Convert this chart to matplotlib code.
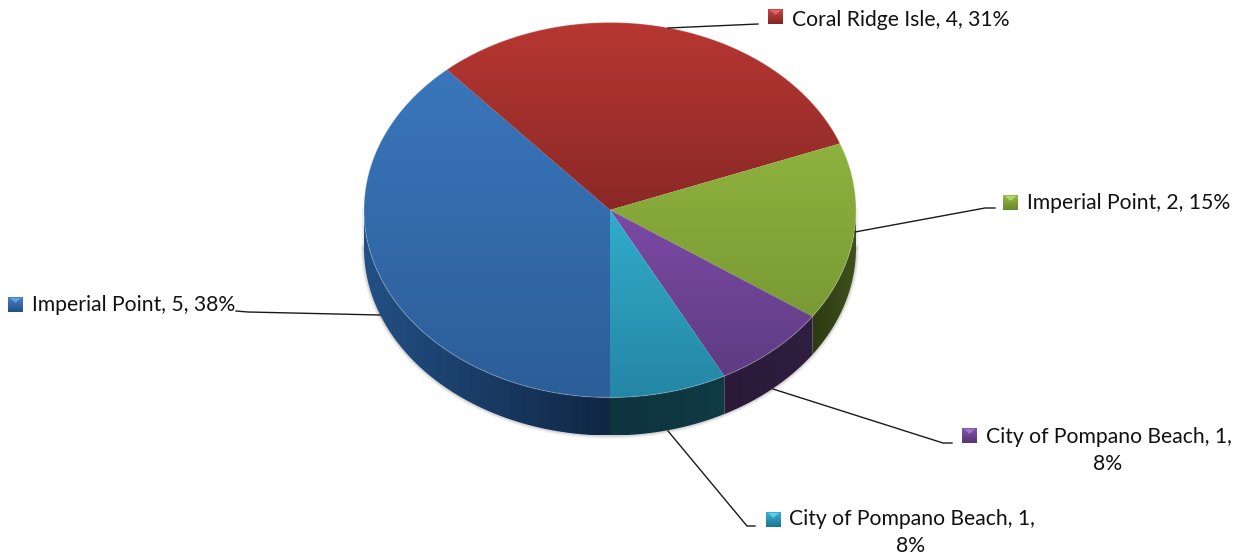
import numpy as np
import matplotlib
matplotlib.use("Agg")
import matplotlib.pyplot as plt
from matplotlib.patches import Polygon, Rectangle

# Chart data, in the order the slices run clockwise from the bottom
names = ["Imperial Point", "Coral Ridge Isle", "Imperial Point",
         "City of Pompano Beach", "City of Pompano Beach"]
counts = [5, 4, 2, 1, 1]

# Slice styling: top-face gradient (upper, lower) and wall gradient (left, right)
top_colors = [((58, 118, 188), (44, 94, 152)),
              ((184, 55, 50), (138, 40, 38)),
              ((142, 178, 62), (122, 154, 52)),
              ((124, 74, 166), (94, 60, 130)),
              ((50, 172, 204), (36, 134, 164))]
wall_colors = [((34, 80, 132), (16, 38, 68)),
               ((90, 30, 28), (90, 30, 28)),
               ((44, 58, 18), (64, 80, 28)),
               ((42, 25, 56), (48, 30, 64)),
               ((14, 52, 62), (16, 58, 68))]
marker_colors = [((70, 130, 200), (36, 80, 130)),
                 ((200, 70, 66), (130, 36, 34)),
                 ((150, 186, 76), (104, 134, 44)),
                 ((130, 86, 170), (84, 52, 120)),
                 ((60, 176, 206), (30, 116, 146))]

# Per-slice label layout: marker left/top, text baseline anchor, leader polyline
marker_pos = [(8, 297), (768, 9), (1003, 195), (962, 428), (766, 512)]
text_pos = [(32, 311), (792, 26), (1027, 209), (986, 443), (789, 525)]
second_line = [None, None, None, (1108, 470), (911, 552)]
leaders = [[(380, 315), (248, 312), (236, 311)],
           [(668, 28), (758, 24)],
           [(855, 232), (985, 208), (995, 208)],
           [(773, 389), (943, 443), (952, 443)],
           [(668, 431), (747, 526), (755, 526)]]

cx, cy, rx, ry, depth = 610, 210, 246, 187.5, 38
FONT = "Lato"
FS = 15.2

fig = plt.figure(figsize=(12.38, 5.57), dpi=100)
ax = fig.add_axes([0, 0, 1, 1])


def gradient(color_a, color_b, extent, clip, horizontal=False, zorder=2):
    t = np.linspace(0, 1, 128)[:, None]
    a, b = np.array(color_a) / 255, np.array(color_b) / 255
    img = (a * (1 - t) + b * t)[:, None, :]
    if horizontal:
        img = np.transpose(img, (1, 0, 2))
    im = ax.imshow(img, extent=extent, origin="upper", aspect="auto",
                   interpolation="bilinear", zorder=zorder)
    if clip is not None:
        ax.add_patch(clip)
        clip.set(facecolor="none", edgecolor="none")
        im.set_clip_path(clip)
    return im


def rim(theta):
    return cx - rx * np.sin(theta), cy + ry * np.cos(theta)


fractions = np.array(counts) / sum(counts)
edges = np.concatenate([[0], np.cumsum(fractions)]) * 2 * np.pi

# Soft edge under the body of the pie
th = np.linspace(-np.pi / 2, np.pi / 2, 300)
sx, sy = rim(th)
for lw, alpha in [(5, 0.05), (3.5, 0.08), (2, 0.14)]:
    ax.plot(sx, sy + depth, color="#555555", lw=lw, alpha=alpha, zorder=1,
            solid_capstyle="round")
for side in (-1, 1):
    ax.plot([cx + side * rx] * 2, [cy, cy + depth], color="#555555",
            lw=3, alpha=0.1, zorder=1)

# Walls of the front half, then the top face
for i in range(len(counts)):
    a0, a1 = edges[i], edges[i + 1]
    front = []
    if a0 < np.pi / 2:
        front.append((a0, min(a1, np.pi / 2)))
    if a1 > 3 * np.pi / 2:
        front.append((max(a0, 3 * np.pi / 2), a1))
    for f0, f1 in front:
        th = np.linspace(f0, f1, 120)
        x, y = rim(th)
        pts = np.vstack([np.c_[x, y], np.c_[x, y + depth][::-1]])
        ext = (pts[:, 0].min(), pts[:, 0].max(), pts[:, 1].max(), pts[:, 1].min())
        gradient(wall_colors[i][0], wall_colors[i][1], ext,
                 Polygon(pts, closed=True, transform=ax.transData),
                 horizontal=True, zorder=2)

for i in range(len(counts)):
    th = np.linspace(edges[i], edges[i + 1], 240)
    x, y = rim(th)
    pts = np.vstack([[cx, cy], np.c_[x, y]])
    ext = (pts[:, 0].min() - 1, pts[:, 0].max() + 1,
           pts[:, 1].max() + 1, pts[:, 1].min() - 1)
    gradient(top_colors[i][0], top_colors[i][1], ext,
             Polygon(pts, closed=True, transform=ax.transData), zorder=3)
    # Pale bevel along the rim of the top face
    ax.plot(x, y, color="white", lw=0.9, alpha=0.18, zorder=4)

# Leader lines, markers and labels
for i in range(len(counts)):
    line = np.array(leaders[i])
    ax.plot(line[:, 0], line[:, 1], color="#1a1a1a", lw=1.0, zorder=5,
            solid_joinstyle="miter")

    mx, my = marker_pos[i]
    size = 15
    gradient(marker_colors[i][0], marker_colors[i][1],
             (mx, mx + size, my + size, my),
             Rectangle((mx, my), size, size, transform=ax.transData), zorder=6)
    light = tuple(min(255, c + 55) / 255 for c in marker_colors[i][0])
    ax.add_patch(Polygon([(mx + 2, my + 1), (mx + size - 2, my + 1), (mx + size / 2, my + 6)],
                         closed=True, facecolor=light, edgecolor="none", alpha=0.6, zorder=7))

    pct = round(100 * fractions[i])
    tx, ty = text_pos[i]
    label = f"{names[i]}, {counts[i]},"
    if second_line[i] is None:
        label += f" {pct}%"
    else:
        sx2, sy2 = second_line[i]
        ax.text(sx2, sy2, f"{pct}%", family=FONT, fontsize=FS, color="#111111",
                ha="center", va="baseline", zorder=8)
    ax.text(tx, ty, label, family=FONT, fontsize=FS, color="#111111",
            ha="left", va="baseline", zorder=8)

ax.set_xlim(0, 1238)
ax.set_ylim(557, 0)
ax.axis("off")
fig.savefig("out.png", dpi=100, facecolor="white")
